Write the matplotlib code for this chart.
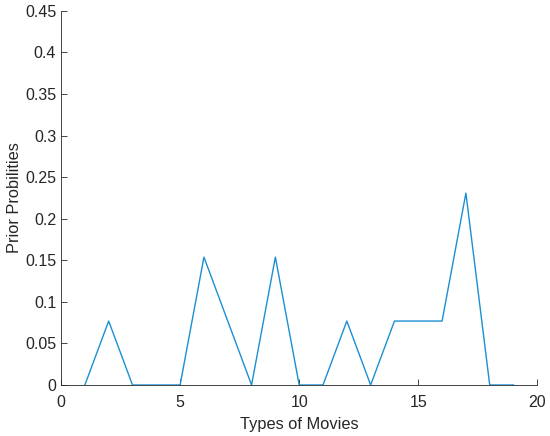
import matplotlib
matplotlib.use("Agg")
import matplotlib.pyplot as plt

movie_types = list(range(1, 20))
prior_probs = [0, 0.0769, 0, 0, 0, 0.1538, 0.0769, 0, 0.1538, 0, 0,
               0.0769, 0, 0.0769, 0.0769, 0.0769, 0.2308, 0, 0]

plt.rcParams['font.family'] = ['Liberation Sans', 'DejaVu Sans']

fig = plt.figure(figsize=(5.5, 4.36), dpi=100)
ax = fig.add_axes([0.111, 0.117, 0.866, 0.858])
ax.plot(movie_types, prior_probs, color='#1a8fd2', linewidth=1.0)

ax.set_xlim(0, 20)
ax.set_ylim(0, 0.45)
ax.set_xticks([0, 5, 10, 15, 20])
ax.set_yticks([0, 0.05, 0.1, 0.15, 0.2, 0.25, 0.3, 0.35, 0.4, 0.45])
ax.set_yticklabels(['0', '0.05', '0.1', '0.15', '0.2', '0.25', '0.3', '0.35', '0.4', '0.45'])
ax.set_xlabel('Types of Movies', fontsize=11.8, color='#262626', labelpad=5)
ax.set_ylabel('Prior Probilities', fontsize=11.8, color='#262626', labelpad=2)

for s in ['top', 'right']:
    ax.spines[s].set_visible(False)
for s in ['left', 'bottom']:
    ax.spines[s].set_color('#262626')
    ax.spines[s].set_linewidth(0.6)
ax.tick_params(direction='in', length=4, width=0.6, colors='#262626', labelsize=11.5)
ax.tick_params(axis='x', pad=7)

fig.savefig('out.png', dpi=100)
